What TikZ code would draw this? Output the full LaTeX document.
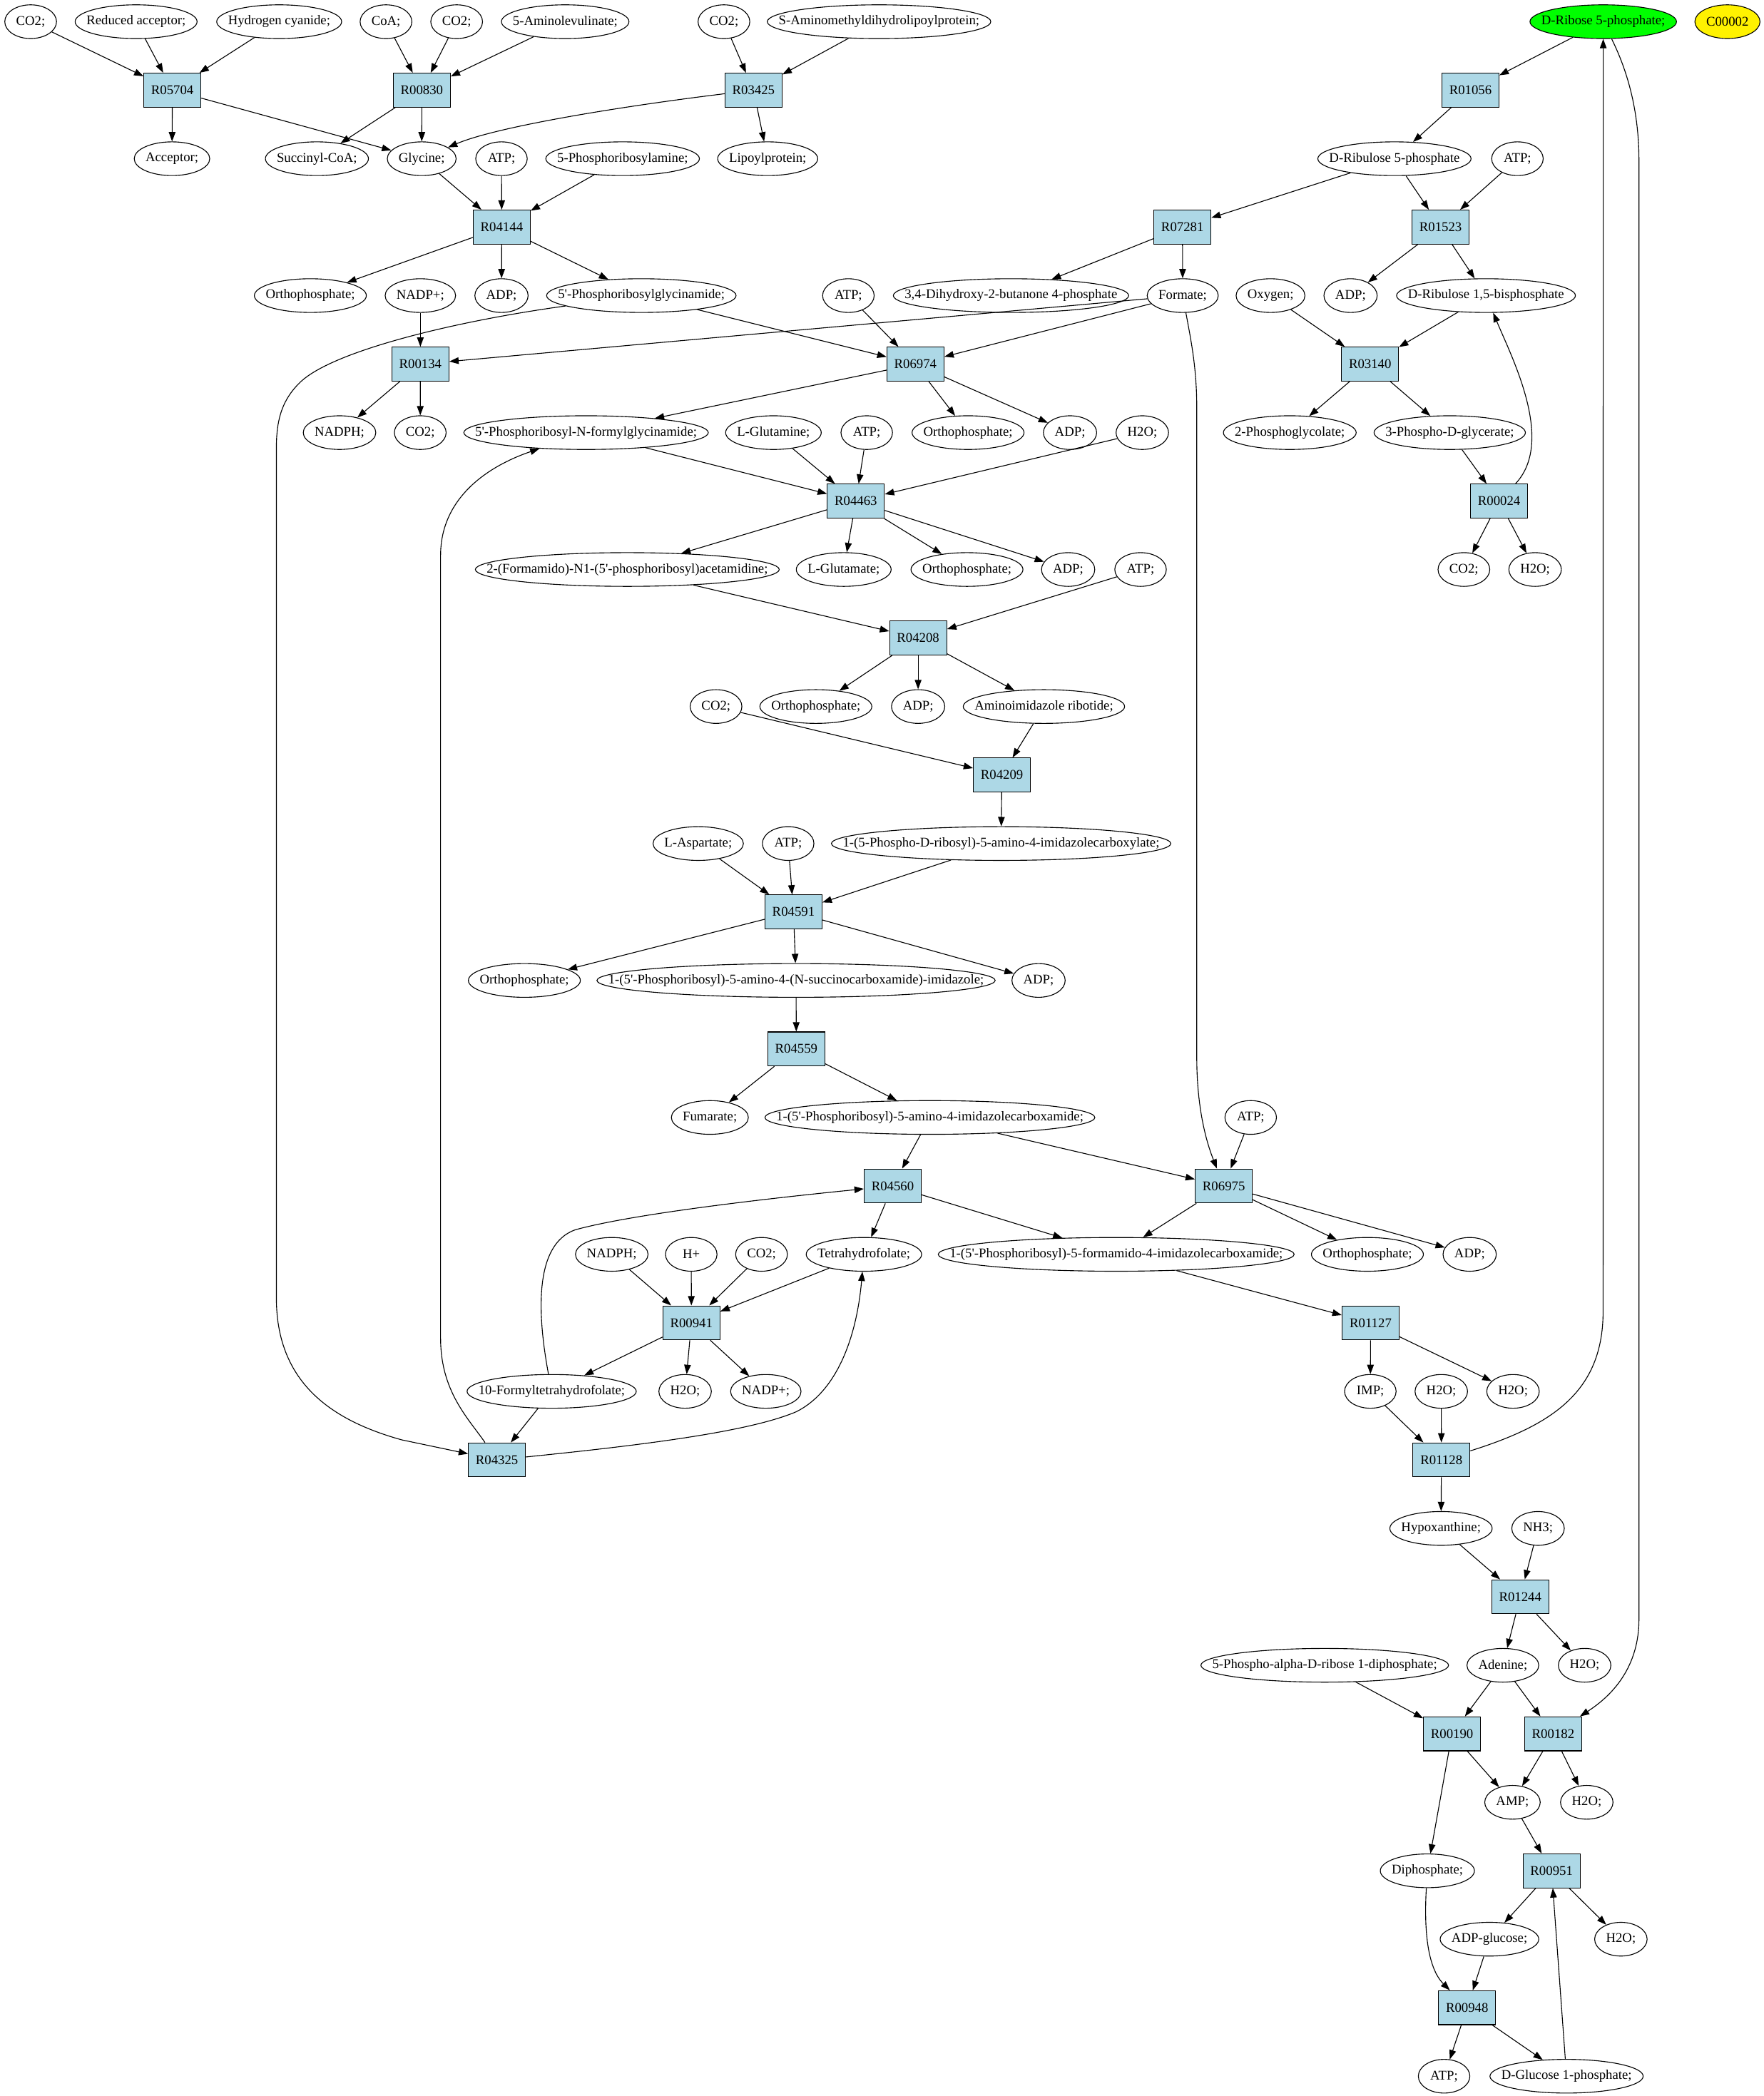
\documentclass[tikz,border=0pt]{standalone}
\usepackage{fontspec}
\setmainfont{Liberation Serif}[Ligatures=TeXOff]
\usetikzlibrary{arrows.meta,shapes.geometric}
\definecolor{rxnblue}{RGB}{173,216,230}
\newlength\metw
\newcommand\ebox[1]{\settowidth\metw{#1}\addtolength\metw{17pt}\makebox[0.70711\metw]{#1}}
\newcommand\metab[4][]{\node[metnode,#1] (#2) at #3 {\ebox{#4}};}
\newcommand\reac[2]{\node[rxnbox] (#1) at #2 {#1};}
\begin{document}
\begin{tikzpicture}[x=1pt,y=-1pt,
  metnode/.style={draw,ellipse,line width=0.6pt,inner sep=0pt,minimum width=38.5pt,minimum height=25.2pt},
  rxnbox/.style={draw,rectangle,fill=rxnblue,line width=0.6pt,inner sep=0pt,minimum width=42.6pt,minimum height=25.4pt},
  edg/.style={line width=0.6pt,-{Triangle[length=7pt,width=5pt]}}]
\useasboundingbox (0,0) rectangle (1318,1566.4);
% rank 0
\metab{c1}{(22.9,16.2)}{CO2;}
\metab{redacc}{(101.7,16.2)}{Reduced acceptor;}
\metab{hcn}{(208.6,16.2)}{Hydrogen cyanide;}
\metab{coa}{(288.4,16.2)}{CoA;}
\metab{c2}{(341.2,16.2)}{CO2;}
\metab{ala}{(422.3,16.2)}{5-Aminolevulinate;}
\metab{c3}{(540.9,16.2)}{CO2;}
\metab{samdl}{(656.8,16.2)}{S-Aminomethyldihydrolipoylprotein;}
\metab[fill=green]{dr5p}{(1197.9,16.2)}{D-Ribose 5-phosphate;}
\metab[fill=yellow]{cz}{(1290.7,16.2)}{C00002}
% rank 1
\reac{R05704}{(128.8,67.4)}
\reac{R00830}{(315.2,67.4)}
\reac{R03425}{(563,67.4)}
\reac{R01056}{(1098.7,67.4)}
% rank 2
\metab{acc}{(128.5,118.6)}{Acceptor;}
\metab{succ}{(236.8,118.6)}{Succinyl-CoA;}
\metab{gly}{(315.1,118.6)}{Glycine;}
\metab{atpa}{(374.7,118.6)}{ATP;}
\metab{pra}{(465.2,118.6)}{5-Phosphoribosylamine;}
\metab{lipo}{(573.6,118.6)}{Lipoylprotein;}
\metab{ru5p}{(1041.9,118.6)}{D-Ribulose 5-phosphate}
\metab{atpb}{(1133.8,118.6)}{ATP;}
% rank 3
\reac{R04144}{(374.9,169.7)}
\reac{R07281}{(883.5,169.7)}
\reac{R01523}{(1076.4,169.7)}
% rank 4
\metab{pia}{(231.9,220.9)}{Orthophosphate;}
\metab{nadpa}{(314.1,220.9)}{NADP+;}
\metab{adpa}{(374.7,220.9)}{ADP;}
\metab{gar}{(479.2,220.9)}{5'-Phosphoribosylglycinamide;}
\metab{atpc}{(633.9,220.9)}{ATP;}
\metab{dhbp}{(755.4,220.9)}{3,4-Dihydroxy-2-butanone 4-phosphate}
\metab{form}{(883.7,220.9)}{Formate;}
\metab{oxy}{(949.3,220.9)}{Oxygen;}
\metab{adpb}{(1009.1,220.9)}{ADP;}
\metab{rubp}{(1110.3,220.9)}{D-Ribulose 1,5-bisphosphate}
% rank 5
\reac{R00134}{(314.1,272.1)}
\reac{R06974}{(684,272.1)}
\reac{R03140}{(1023.7,272.1)}
% rank 6
\metab{nadpha}{(253.7,323.3)}{NADPH;}
\metab{cd}{(314,323.3)}{CO2;}
\metab{fgar}{(437.9,323.3)}{5'-Phosphoribosyl-N-formylglycinamide;}
\metab{gln}{(577.9,323.3)}{L-Glutamine;}
\metab{atpd}{(647.6,323.3)}{ATP;}
\metab{pib}{(723.3,323.3)}{Orthophosphate;}
\metab{adpc}{(799.5,323.3)}{ADP;}
\metab{h2oa}{(853.5,323.3)}{H2O;}
\metab{pgly}{(963.7,323.3)}{2-Phosphoglycolate;}
\metab{pga}{(1083.2,323.3)}{3-Phospho-D-glycerate;}
% rank 7
\reac{R04463}{(639.5,374.5)}
\reac{R00024}{(1120.1,374.5)}
% rank 8
\metab{fgam}{(468.7,425.6)}{2-(Formamido)-N1-(5'-phosphoribosyl)acetamidine;}
\metab{glu}{(630.4,425.6)}{L-Glutamate;}
\metab{pic}{(722.5,425.6)}{Orthophosphate;}
\metab{adpd}{(798.1,425.6)}{ADP;}
\metab{atpe}{(852.2,425.6)}{ATP;}
\metab{ce}{(1093.8,425.6)}{CO2;}
\metab{h2ob}{(1147,425.6)}{H2O;}
% rank 9
\reac{R04208}{(686,476.8)}
% rank 10
\metab{cf}{(535,528)}{CO2;}
\metab{pid}{(609.6,528)}{Orthophosphate;}
\metab{adpe}{(686,528)}{ADP;}
\metab{air}{(780,528)}{Aminoimidazole ribotide;}
% rank 11
\reac{R04209}{(748.6,579.2)}
% rank 12
\metab{asp}{(521.7,630.4)}{L-Aspartate;}
\metab{atpf}{(588.9,630.4)}{ATP;}
\metab{cair}{(748,630.4)}{1-(5-Phospho-D-ribosyl)-5-amino-4-imidazolecarboxylate;}
% rank 13
\reac{R04591}{(592.9,681.5)}
% rank 14
\metab{pie}{(391.8,732.7)}{Orthophosphate;}
\metab{saicar}{(594.8,732.7)}{1-(5'-Phosphoribosyl)-5-amino-4-(N-succinocarboxamide)-imidazole;}
\metab{adpf}{(776,732.7)}{ADP;}
% rank 15
\reac{R04559}{(595,783.9)}
% rank 16
\metab{fum}{(530.4,835.1)}{Fumarate;}
\metab{aicar}{(694.8,835.1)}{1-(5'-Phosphoribosyl)-5-amino-4-imidazolecarboxamide;}
\metab{atpg}{(934.5,835.1)}{ATP;}
% rank 17
\reac{R04560}{(667,886.3)}
\reac{R06975}{(914.4,886.3)}
% rank 18
\metab{nadphb}{(457.1,937.4)}{NADPH;}
\metab{hplus}{(516.5,937.4)}{H+}
\metab{cg}{(569,937.4)}{CO2;}
\metab{thf}{(645.5,937.4)}{Tetrahydrofolate;}
\metab{faicar}{(834,937.4)}{1-(5'-Phosphoribosyl)-5-formamido-4-imidazolecarboxamide;}
\metab{pif}{(1021.7,937.4)}{Orthophosphate;}
\metab{adpx}{(1098.1,937.4)}{ADP;}
% rank 19
\reac{R00941}{(516.6,988.6)}
\reac{R01127}{(1024.1,988.6)}
% rank 20
\metab{fthf}{(412.2,1039.8)}{10-Formyltetrahydrofolate;}
\metab{h2oc}{(511.9,1039.8)}{H2O;}
\metab{nadpb}{(572.2,1039.8)}{NADP+;}
\metab{imp}{(1023.9,1039.8)}{IMP;}
\metab{h2od}{(1076.9,1039.8)}{H2O;}
\metab{h2oe}{(1130.5,1039.8)}{H2O;}
% rank 21
\reac{R04325}{(371.3,1091)}
\reac{R01128}{(1077,1091)}
% rank 22
\metab{hyp}{(1076.7,1142.2)}{Hypoxanthine;}
\metab{nh3}{(1149.2,1142.2)}{NH3;}
% rank 23
\reac{R01244}{(1135.9,1193.3)}
% rank 24
\metab{prpp}{(989.8,1244.5)}{5-Phospho-alpha-D-ribose 1-diphosphate;}
\metab{ade}{(1122.9,1244.5)}{Adenine;}
\metab{h2of}{(1184,1244.5)}{H2O;}
% rank 25
\reac{R00190}{(1084.9,1295.7)}
\reac{R00182}{(1160.5,1295.7)}
% rank 26
\metab{amp}{(1130.1,1346.9)}{AMP;}
\metab{h2og}{(1185.6,1346.9)}{H2O;}
% rank 27
\metab{ppi}{(1066.5,1398.1)}{Diphosphate;}
\reac{R00951}{(1159.3,1398.1)}
% rank 28
\metab{adpglc}{(1112.9,1449.2)}{ADP-glucose;}
\metab{h2oh}{(1211.1,1449.2)}{H2O;}
% rank 29
\reac{R00948}{(1096.2,1500.4)}
% rank 30
\metab{atph}{(1079,1551.6)}{ATP;}
\metab{g1p}{(1170.5,1551.6)}{D-Glucose 1-phosphate;}
% straight connectors
\foreach \a/\b in {c1/R05704, redacc/R05704, hcn/R05704, R05704/acc, R05704/gly,
  coa/R00830, c2/R00830, ala/R00830, R00830/succ, R00830/gly,
  c3/R03425, samdl/R03425, R03425/lipo,
  gly/R04144, atpa/R04144, pra/R04144, R04144/pia, R04144/adpa, R04144/gar,
  gar/R06974, nadpa/R00134, form/R00134, R00134/nadpha, R00134/cd,
  atpc/R06974, form/R06974, R06974/fgar, R06974/pib, R06974/adpc,
  dr5p/R01056, R01056/ru5p, ru5p/R07281, ru5p/R01523, atpb/R01523, R01523/adpb, R01523/rubp,
  R07281/dhbp, R07281/form, rubp/R03140, oxy/R03140, R03140/pgly, R03140/pga,
  pga/R00024, R00024/ce, R00024/h2ob,
  fgar/R04463, gln/R04463, atpd/R04463, h2oa/R04463, R04463/fgam, R04463/glu, R04463/pic, R04463/adpd,
  fgam/R04208, atpe/R04208, R04208/pid, R04208/adpe, R04208/air,
  air/R04209, cf/R04209, R04209/cair,
  asp/R04591, atpf/R04591, cair/R04591, R04591/pie, R04591/saicar, R04591/adpf,
  saicar/R04559, R04559/fum, R04559/aicar,
  aicar/R04560, aicar/R06975, atpg/R06975, R04560/thf, R04560/faicar,
  R06975/faicar, R06975/pif, R06975/adpx,
  nadphb/R00941, hplus/R00941, cg/R00941, thf/R00941, R00941/fthf, R00941/h2oc, R00941/nadpb,
  fthf/R04325, faicar/R01127, R01127/imp, R01127/h2oe,
  imp/R01128, h2od/R01128, R01128/hyp,
  hyp/R01244, nh3/R01244, R01244/ade, R01244/h2of,
  prpp/R00190, ade/R00190, ade/R00182, R00190/amp, R00190/ppi, R00182/amp, R00182/h2og,
  amp/R00951, g1p/R00951, R00951/adpglc, R00951/h2oh, adpglc/R00948, R00948/atph, R00948/g1p}
  \draw[edg] (\a) -- (\b);
% curved connectors
\draw[edg] (R03425) .. controls (460,80) and (370,95) .. (gly);
\draw[edg] (gar) .. controls (340,240) and (250,262) .. (225,285) .. controls (210,299) and (206.5,315) .. (206.5,335) -- (206.5,970) .. controls (206.5,1035) and (250,1062) .. (300,1076) -- (R04325);
\draw[edg] (R04325) .. controls (350,1060) and (329.2,1040) .. (329.2,1000) -- (329.2,415) .. controls (329.2,375) and (360,350) .. (fgar);
\draw[edg] (form) .. controls (890,255) and (894.2,275) .. (894.2,305) -- (894.2,790) .. controls (894.2,830) and (902,855) .. (R06975);
\draw[edg] (R00024) .. controls (1162,330) and (1130,268) .. (rubp);
\draw[edg] (R01128) .. controls (1160,1065) and (1197.8,1040) .. (1197.8,980) -- (dr5p);
\draw[edg] (dr5p) .. controls (1212,45) and (1224.6,75) .. (1224.6,120) -- (1224.6,1210) .. controls (1224.6,1250) and (1200,1270) .. (R00182);
\draw[edg] (fthf) .. controls (402,985) and (398,930) .. (430,919) .. controls (470,908) and (560,897) .. (R04560);
\draw[edg] (R04325) .. controls (480,1080) and (560,1070) .. (595,1055) .. controls (625,1040) and (640,1000) .. (thf);
\draw[edg] (ppi) .. controls (1064,1440) and (1066,1470) .. (R00948);
\end{tikzpicture}
\end{document}
